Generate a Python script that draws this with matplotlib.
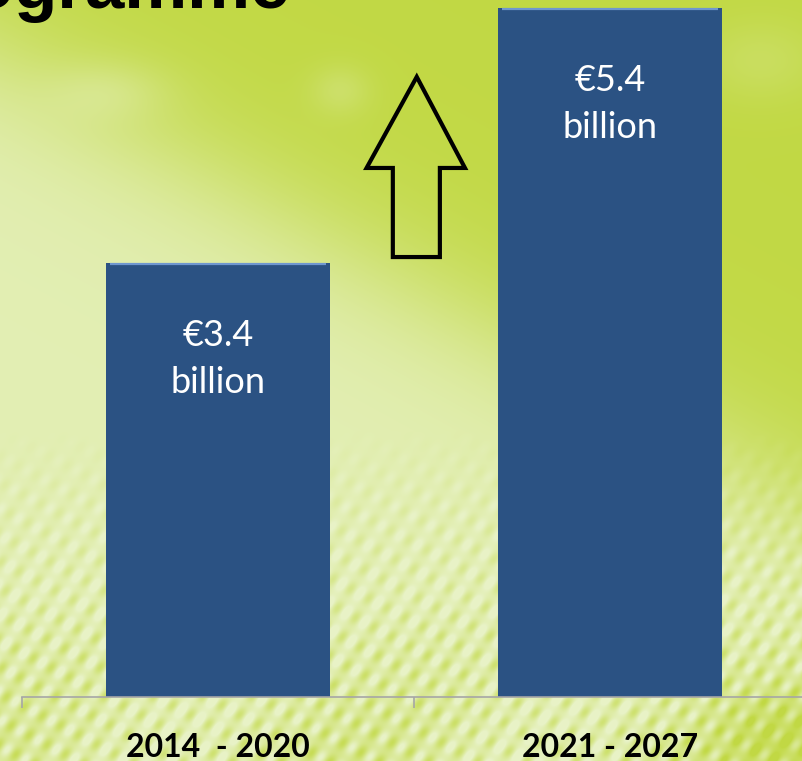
import numpy as np
import matplotlib
matplotlib.use('Agg')
import matplotlib.pyplot as plt
from matplotlib.patches import Polygon

# ---- data ----
periods = ['2014  - 2020', '2021 - 2027']
budget_bn = [3.4, 5.4]
value_labels = ['€3.4\nbillion', '€5.4\nbillion']
title_text = 'Programme'

W, H = 802, 761
fig = plt.figure(figsize=(W / 100, H / 100), dpi=100)

# ---- decorative background ----
bg = fig.add_axes([0, 0, 1, 1])
bg.set_axis_off()
yy, xx = np.mgrid[0:H, 0:W].astype(float)
boundary = 60 + 0.55 * xx
t = 1 / (1 + np.exp(-(yy - boundary) / 45))
t *= 0.85
t += 0.25 * np.exp(-(((xx - 110) / 60) ** 2 + ((yy - 90) / 30) ** 2))
t += 0.25 * np.exp(-(((xx - 340) / 30) ** 2 + ((yy - 90) / 25) ** 2))
t += 0.2 * np.exp(-(((xx - 760) / 60) ** 2 + ((yy - 60) / 40) ** 2))
# woven diagonal texture in the lower part
s = np.sin((xx * 0.8 + yy * 0.55) * 0.32) * (0.6 + 0.4 * np.sin((-xx * 0.45 + yy * 0.85) * 0.28))
amp = np.clip((yy - 430) / 220, 0, 1) * 0.45
t = t + amp * s
t -= 0.3 * np.clip((yy - 600) / 160, 0, 1) * (0.5 + 0.5 * np.sin(xx / 60.0 + yy / 90.0))
t -= 0.5 * np.exp(-(((xx - 790) / 70) ** 2 + ((yy - 740) / 50) ** 2))
t = np.clip(t, 0, 1)
C1 = np.array([0.76, 0.85, 0.27])
C2 = np.array([0.91, 0.95, 0.78])
img = C1[None, None, :] * (1 - t[..., None]) + C2[None, None, :] * t[..., None]
bg.imshow(img, extent=[0, W, H, 0], aspect='auto', interpolation='bilinear')
bg.set_xlim(0, W)
bg.set_ylim(H, 0)

# ---- title fragment ----
fig.text(290 / W, 1 - 8 / H, title_text, ha='right', va='baseline',
         fontsize=51, fontweight='bold', color='black',
         family=['Liberation Sans', 'DejaVu Sans'])

# ---- main chart ----
ax = fig.add_axes([22 / W, (H - 697) / H, 784 / W, 697 / H])
ax.patch.set_alpha(0)
x = np.arange(len(periods))
bw = 224 / 392
ax.bar(x, budget_bn, width=bw, color='#2b5283', edgecolor='none', zorder=2)
for xi, v in zip(x, budget_bn):
    ax.plot([xi - bw / 2 + 0.01, xi + bw / 2 - 0.01], [v - 0.01, v - 0.01],
            color='#6f97cf', lw=1.6, zorder=3, solid_capstyle='butt')
for xi, v, lab in zip(x, budget_bn, value_labels):
    ax.annotate(lab, xy=(xi, v), xytext=(0, -96), textcoords='offset pixels',
                ha='center', va='center', color='white', fontsize=26,
                linespacing=1.5, family=['Lato', 'DejaVu Sans'], zorder=4)

ax.set_xlim(-0.5, 1.5)
ax.set_ylim(0, 697 / 127.6)
for sp in ['top', 'right', 'left']:
    ax.spines[sp].set_visible(False)
ax.spines['bottom'].set_color('#a6a6a6')
ax.spines['bottom'].set_linewidth(1.2)
ax.set_yticks([])
ax.set_xticks(x)
ax.set_xticklabels(periods, fontsize=23, fontweight='bold',
                   family=['Lato', 'DejaVu Sans'])
ax.tick_params(axis='x', which='major', length=0, pad=26)
ax.set_xticks([-0.5, 0.5, 1.5], minor=True)
ax.tick_params(axis='x', which='minor', length=8, width=1.2, color='#a6a6a6',
               direction='out')

# ---- increase arrow (outline) ----
arrow_x = 0.507
arrow = Polygon([(arrow_x, 4.86), (arrow_x + 0.123, 4.146), (arrow_x + 0.059, 4.146),
                 (arrow_x + 0.059, 3.448), (arrow_x - 0.061, 3.448),
                 (arrow_x - 0.061, 4.146), (arrow_x - 0.128, 4.146)],
                closed=True, fill=False, edgecolor='black', lw=3,
                joinstyle='miter', zorder=3)
ax.add_patch(arrow)

fig.savefig('out.png', dpi=100)
